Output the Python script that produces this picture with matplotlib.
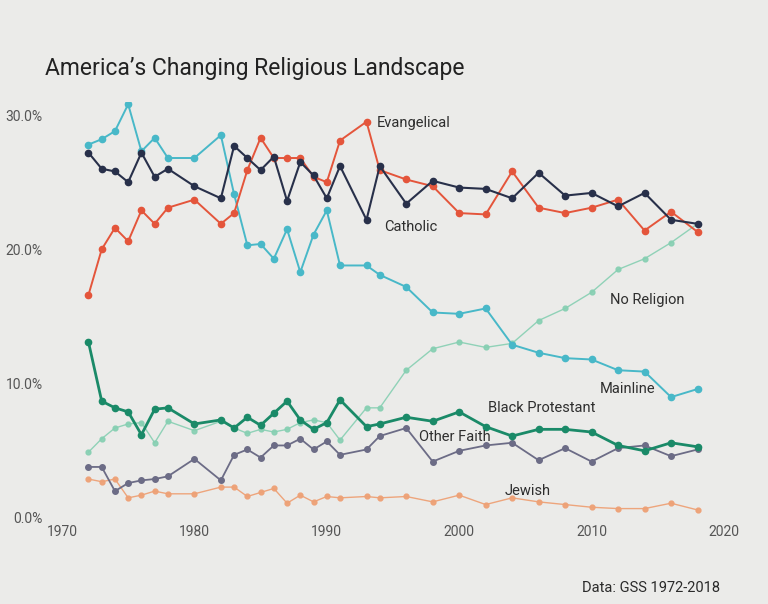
import matplotlib
matplotlib.use('Agg')
import matplotlib.pyplot as plt
from matplotlib.ticker import FuncFormatter

# GSS survey years
years = [1972, 1973, 1974, 1975, 1976, 1977, 1978, 1980, 1982, 1983, 1984,
         1985, 1986, 1987, 1988, 1989, 1990, 1991, 1993, 1994, 1996, 1998,
         2000, 2002, 2004, 2006, 2008, 2010, 2012, 2014, 2016, 2018]

# Share of population (%) by tradition
evangelical = [16.6, 20.0, 21.6, 20.6, 22.9, 21.9, 23.1, 23.7, 21.9, 22.7, 25.9,
               28.3, 26.8, 26.8, 26.8, 25.4, 25.0, 28.1, 29.5, 25.9, 25.2, 24.7,
               22.7, 22.6, 25.8, 23.1, 22.7, 23.1, 23.7, 21.4, 22.8, 21.3]
catholic = [27.2, 26.0, 25.8, 25.0, 27.2, 25.4, 26.0, 24.7, 23.8, 27.7, 26.8,
            25.9, 26.9, 23.6, 26.5, 25.5, 23.8, 26.2, 22.2, 26.2, 23.4, 25.1,
            24.6, 24.5, 23.8, 25.7, 24.0, 24.2, 23.2, 24.2, 22.2, 21.9]
mainline = [27.8, 28.2, 28.8, 30.8, 27.3, 28.3, 26.8, 26.8, 28.5, 24.1, 20.3,
            20.4, 19.3, 21.5, 18.3, 21.1, 22.9, 18.8, 18.8, 18.1, 17.2, 15.3,
            15.2, 15.6, 12.9, 12.3, 11.9, 11.8, 11.0, 10.9, 9.0, 9.6]
no_religion = [4.9, 5.9, 6.7, 7.0, 7.1, 5.6, 7.2, 6.5, 7.2, 6.7, 6.3,
               6.6, 6.4, 6.6, 7.1, 7.3, 7.1, 5.8, 8.2, 8.2, 11.0, 12.6,
               13.1, 12.7, 13.0, 14.7, 15.6, 16.8, 18.5, 19.3, 20.5, 21.9]
black_prot = [13.1, 8.7, 8.2, 7.9, 6.2, 8.1, 8.2, 7.0, 7.3, 6.7, 7.5,
              6.9, 7.8, 8.7, 7.3, 6.6, 7.1, 8.8, 6.8, 7.0, 7.5, 7.2,
              7.9, 6.8, 6.1, 6.6, 6.6, 6.4, 5.4, 5.0, 5.6, 5.3]
other_faith = [3.8, 3.8, 2.0, 2.6, 2.8, 2.9, 3.1, 4.4, 2.8, 4.7, 5.1,
               4.5, 5.4, 5.4, 5.9, 5.1, 5.7, 4.7, 5.1, 6.1, 6.7, 4.2,
               5.0, 5.4, 5.6, 4.3, 5.2, 4.2, 5.2, 5.4, 4.6, 5.1]
jewish = [2.9, 2.7, 2.9, 1.5, 1.7, 2.0, 1.8, 1.8, 2.3, 2.3, 1.6,
          1.9, 2.2, 1.1, 1.7, 1.2, 1.6, 1.5, 1.6, 1.5, 1.6, 1.2,
          1.7, 1.0, 1.5, 1.2, 1.0, 0.8, 0.7, 0.7, 1.1, 0.6]

bg = '#ebebe9'
plt.rcParams['font.family'] = ['Roboto', 'DejaVu Sans']

fig = plt.figure(figsize=(7.68, 6.04), dpi=100, facecolor=bg)
ax = fig.add_axes([0.0807, 0.1424, 0.862, 0.6894])
ax.set_facecolor(bg)

# (data, colour, line width, marker size, alpha, zorder)
series = [
    (no_religion, '#86cfb2', 1.0, 3.5, 0.9, 2),
    (jewish, '#eea176', 1.0, 3.5, 0.95, 2),
    (other_faith, '#6c6c86', 1.3, 4.0, 1.0, 3),
    (black_prot, '#1a8a68', 2.0, 4.5, 1.0, 4),
    (mainline, '#48b8c8', 1.4, 4.5, 1.0, 3),
    (evangelical, '#e4553b', 1.4, 4.5, 1.0, 4),
    (catholic, '#28304a', 1.5, 4.5, 1.0, 5),
]
for vals, col, lw, ms, a, z in series:
    ax.plot(years, vals, color=col, lw=lw, marker='o', ms=ms, alpha=a, zorder=z)

# direct labels
labels = [
    ('Evangelical', 1993.8, 29.4),
    ('Catholic', 1994.3, 21.7),
    ('No Religion', 2011.4, 16.2),
    ('Mainline', 2010.6, 9.6),
    ('Black Protestant', 2002.2, 8.2),
    ('Other Faith', 1997.0, 6.0),
    ('Jewish', 2003.4, 2.0),
]
for txt, x, y in labels:
    ax.text(x, y, txt, fontsize=10.5, color='#2e2e2e', ha='left', va='center', zorder=6)

ax.set_xlim(1970, 2020)
ax.set_ylim(0, 31)
ax.set_xticks([1970, 1980, 1990, 2000, 2010, 2020])
ax.set_yticks([0, 10, 20, 30])
ax.yaxis.set_major_formatter(FuncFormatter(lambda v, p: f'{v:.1f}%'))
ax.tick_params(axis='both', length=0, labelsize=10, labelcolor='#555555')
ax.tick_params(axis='y', pad=14)
ax.tick_params(axis='x', pad=5)
for s in ax.spines.values():
    s.set_visible(False)

fig.text(45 / 768, 1 - 68 / 604, "America\u2019s Changing Religious Landscape",
         fontsize=16.5, color='#222222', va='center', ha='left')
fig.text(720 / 768, 1 - 588 / 604, 'Data: GSS 1972-2018',
         fontsize=10.5, color='#2a2a2a', va='center', ha='right')

fig.savefig('out.png', dpi=100, facecolor=bg)
